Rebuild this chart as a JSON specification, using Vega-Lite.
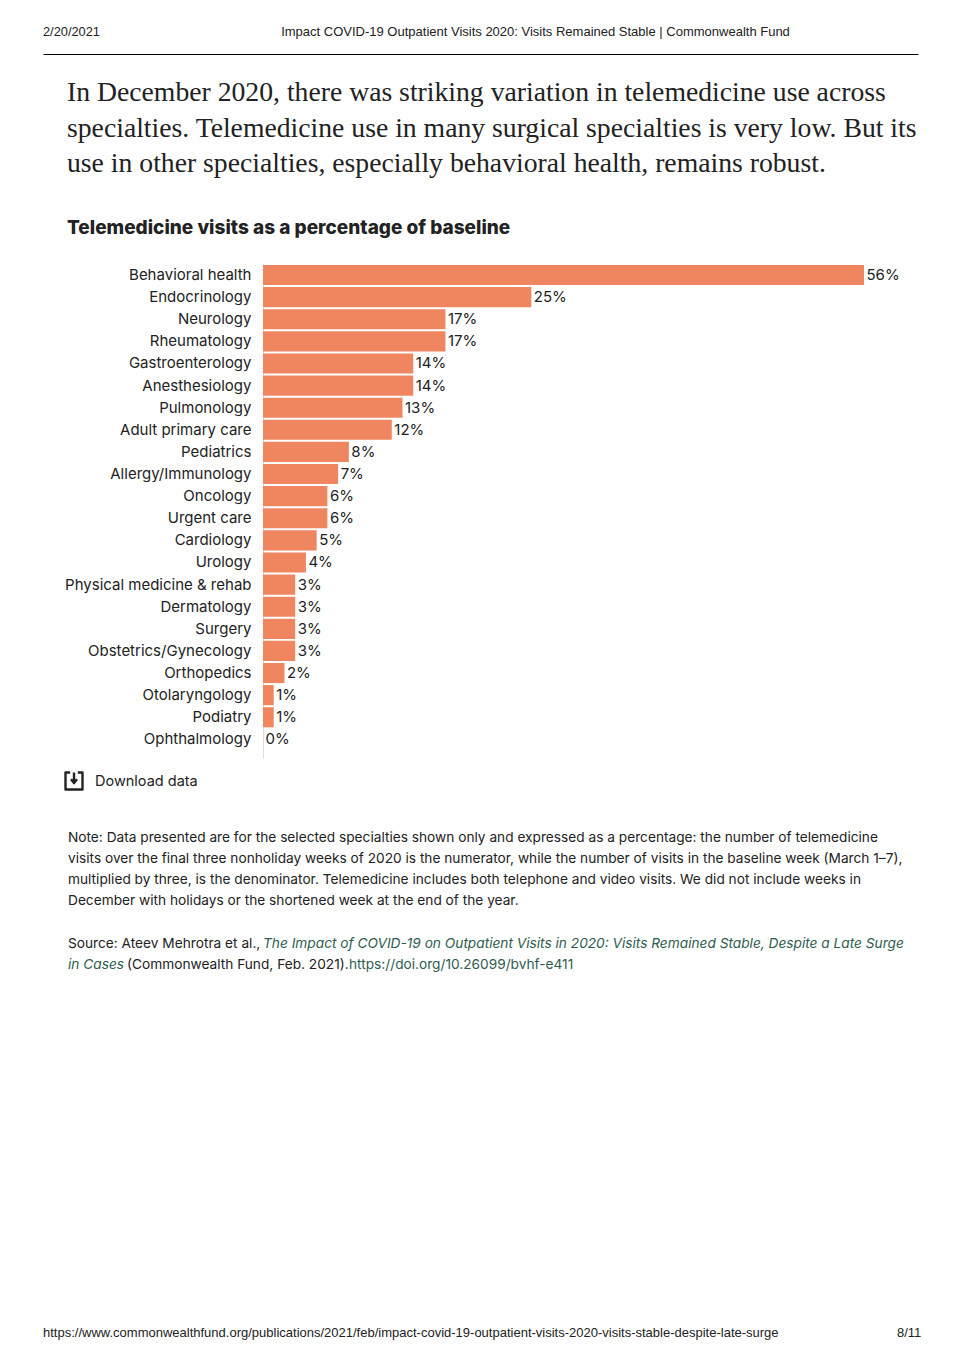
{"$schema":"https://vega.github.io/schema/vega-lite/v6.json","padding":0,"background":"white","spacing":0,"data":{"values":[]},"config":{"view":{"stroke":null},"concat":{"spacing":0},"title":{"anchor":"start","frame":"bounds","offset":0,"fontWeight":"normal","color":"#222","font":"Inter"},"font":"Inter"},"vconcat":[
{"width":964,"height":25,"mark":"text","encoding":{}},
{"width":964,"height":25,"data":{"values":[{"a":0}]},"mark":{"type":"point","opacity":0},"encoding":{"x":{"field":"a","type":"quantitative","scale":{"domain":[0,1],"range":[43,918]},"axis":{"orient":"top","ticks":false,"labels":false,"grid":false,"domainColor":"#000","domainWidth":1,"title":"Impact COVID-19 Outpatient Visits 2020: Visits Remained Stable | Commonwealth Fund","titleFont":"Liberation Sans","titleFontSize":13,"titleFontWeight":"normal","titleColor":"#222","titleX":535,"titleY":-19,"titleAlign":"center","titleBaseline":"alphabetic"}}},"title":{"text":"2/20/2021","font":"Liberation Sans","fontSize":12.8,"dx":43,"offset":-14}},
{"width":964,"height":494,"data":{"values":[
{"s":"Behavioral health","v":56,"t":"56%"},{"s":"Endocrinology","v":25,"t":"25%"},{"s":"Neurology","v":17,"t":"17%"},{"s":"Rheumatology","v":17,"t":"17%"},{"s":"Gastroenterology","v":14,"t":"14%"},{"s":"Anesthesiology","v":14,"t":"14%"},{"s":"Pulmonology","v":13,"t":"13%"},{"s":"Adult primary care","v":12,"t":"12%"},{"s":"Pediatrics","v":8,"t":"8%"},{"s":"Allergy/Immunology","v":7,"t":"7%"},{"s":"Oncology","v":6,"t":"6%"},{"s":"Urgent care","v":6,"t":"6%"},{"s":"Cardiology","v":5,"t":"5%"},{"s":"Urology","v":4,"t":"4%"},{"s":"Physical medicine & rehab","v":3,"t":"3%"},{"s":"Dermatology","v":3,"t":"3%"},{"s":"Surgery","v":3,"t":"3%"},{"s":"Obstetrics/Gynecology","v":3,"t":"3%"},{"s":"Orthopedics","v":2,"t":"2%"},{"s":"Otolaryngology","v":1,"t":"1%"},{"s":"Podiatry","v":1,"t":"1%"},{"s":"Ophthalmology","v":0,"t":"0%"}]},
"title":{"text":["In December 2020, there was striking variation in telemedicine use across","specialties. Telemedicine use in many surgical specialties is very low. But its","use in other specialties, especially behavioral health, remains robust."],"font":"Liberation Serif","fontSize":27.7,"lineHeight":35.5,"dx":67,"subtitle":"Telemedicine visits as a percentage of baseline","subtitleFont":"Inter","subtitleFontSize":19,"subtitleFontWeight":800,"subtitleColor":"#222","subtitlePadding":41,"offset":26},
"encoding":{"y":{"field":"s","type":"nominal","sort":null,"scale":{"paddingInner":0.09,"paddingOuter":0.215,"align":0.1},"axis":{"title":null,"ticks":false,"domainColor":"#ddd","labelFont":"Inter","labelFontSize":15,"labelColor":"#222","labelPadding":12,"labelLimit":300,"offset":-263}},"x":{"field":"v","type":"quantitative","scale":{"domain":[0,56],"range":[263,864],"nice":false},"axis":null}},
"layer":[{"mark":{"type":"bar","color":"#f08660"}},{"mark":{"type":"text","align":"left","dx":2.5,"font":"Inter","fontSize":15,"color":"#222"},"encoding":{"text":{"field":"t","type":"nominal"}}}]},
{"spacing":0,"hconcat":[{"width":64,"height":46,"mark":"text","encoding":{}},{"width":20,"height":46,"data":{"values":[{"icon":"download"}]},"mark":{"type":"point","shape":"M-0.45,-1 L-1,-1 L-1,1 L1,1 L1,-1 L0.45,-1 M0,-1 L0,0.2 M-0.35,-0.2 L0,0.25 L0.35,-0.2","size":289,"filled":false,"stroke":"#222","strokeWidth":2.4,"strokeJoin":"round","opacity":1},"encoding":{}},{"width":200,"height":46,"mark":"text","encoding":{},"title":{"text":"Download data","fontSize":14.5,"dx":11,"offset":-31}}]},
{"width":964,"height":27,"mark":"text","encoding":{}},
{"width":964,"height":29,"mark":"text","encoding":{},"title":{"text":["Note: Data presented are for the selected specialties shown only and expressed as a percentage: the number of telemedicine","visits over the final three nonholiday weeks of 2020 is the numerator, while the number of visits in the baseline week (March 1–7),","multiplied by three, is the denominator. Telemedicine includes both telephone and video visits. We did not include weeks in","December with holidays or the shortened week at the end of the year."],"fontSize":13.7,"lineHeight":21,"dx":68,"offset":0}},
{"spacing":0,"hconcat":[{"width":263,"height":3,"mark":"text","encoding":{},"title":{"text":"Source: Ateev Mehrotra et al.,","fontSize":13.7,"dx":68}},{"width":660,"height":3,"mark":"text","encoding":{},"title":{"text":"The Impact of COVID-19 on Outpatient Visits in 2020: Visits Remained Stable, Despite a Late Surge","fontSize":13.7,"fontStyle":"italic","color":"#2e5c4e"}}]},
{"spacing":0,"hconcat":[{"width":127,"height":351,"mark":"text","encoding":{},"title":{"text":"in Cases","fontSize":13.7,"fontStyle":"italic","color":"#2e5c4e","dx":68}},{"width":222,"height":351,"mark":"text","encoding":{},"title":{"text":"(Commonwealth Fund, Feb. 2021).","fontSize":13.7}},{"width":300,"height":351,"mark":"text","encoding":{},"title":{"text":"https://doi.org/10.26099/bvhf-e411","fontSize":13.7,"color":"#2e5c4e"}}]},
{"spacing":0,"hconcat":[{"width":897,"height":20,"mark":"text","encoding":{},"title":{"text":"https://www.commonwealthfund.org/publications/2021/feb/impact-covid-19-outpatient-visits-2020-visits-stable-despite-late-surge","font":"Liberation Sans","fontSize":13,"dx":43}},{"width":60,"height":20,"mark":"text","encoding":{},"title":{"text":"8/11","font":"Liberation Sans","fontSize":13}}]}
]}
